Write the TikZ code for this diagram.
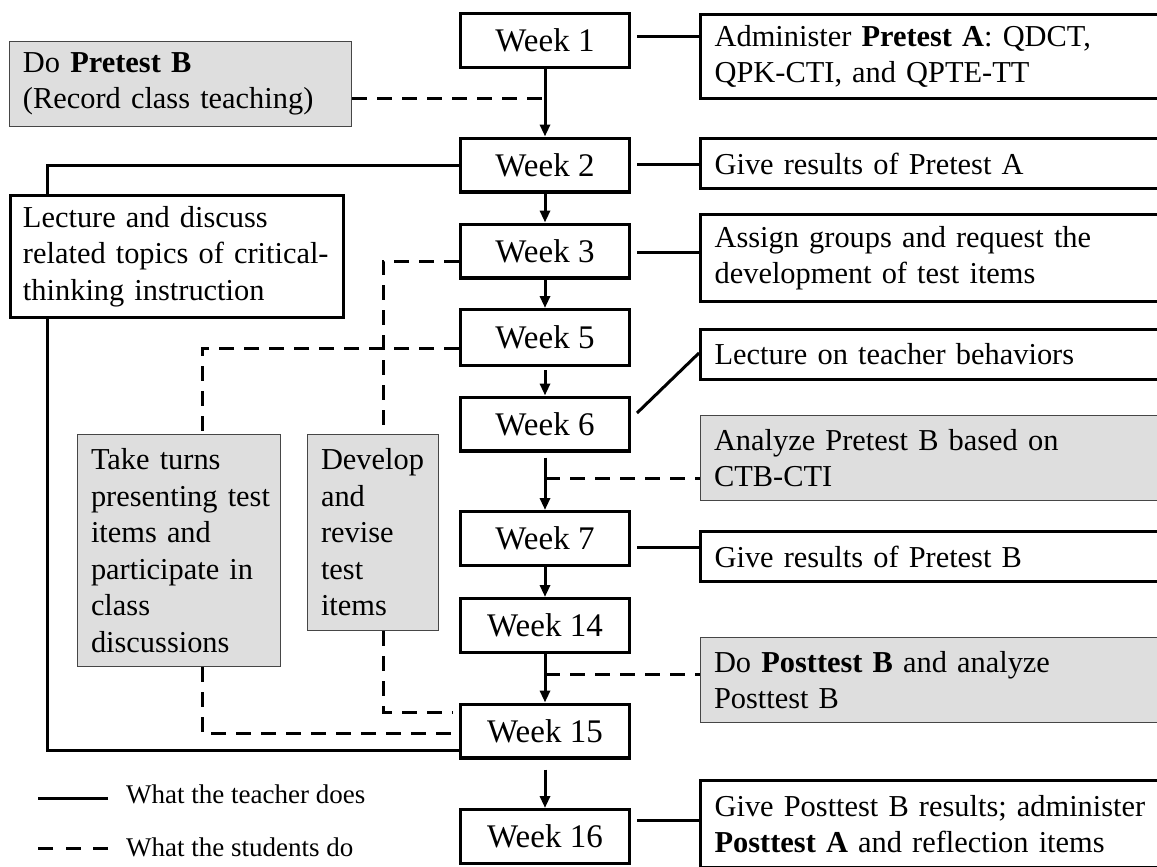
\documentclass[tikz,border=0pt]{standalone}
\usepackage{fontspec}
\setmainfont{Liberation Serif}
\usetikzlibrary{arrows.meta,calc}
\hyphenpenalty=10000
\exhyphenpenalty=10000
\definecolor{boxgray}{RGB}{222,222,222}
\definecolor{edgegray}{RGB}{70,70,70}
\begin{document}
\begin{tikzpicture}[x=1pt,y=-1pt,
  every node/.style={inner sep=0pt},
  week/.style={draw, line width=3.2pt, minimum width=168.8pt, minimum height=53.8pt,
    font=\fontsize{33}{39}\selectfont},
  tbox/.style={draw, line width=3.2pt, align=left, inner xsep=14pt, inner ysep=0pt,
    font=\fontsize{30.4}{36.5}\selectfont},
  sbox/.style={draw=edgegray, line width=1.2pt, fill=boxgray, align=left, inner xsep=13.4pt,
    inner ysep=0pt, font=\fontsize{30.4}{36.5}\selectfont},
  legendtext/.style={font=\fontsize{27}{32}\selectfont},
  tline/.style={line width=3pt},
  sline/.style={line width=3pt, dash pattern=on 15pt off 10pt},
  arr/.style={line width=3pt, -{Triangle[width=10pt,length=12pt]}}
]
\useasboundingbox (0,0) rectangle (1157,867);
\clip (0,0) rectangle (1157,867);

% week column
\node[week] (w1) at (545,40.5) {Week 1};
\node[week] (w2) at (545,165) {Week 2};
\node[week] (w3) at (545,251) {Week 3};
\node[week, minimum height=55.8pt] (w5) at (545,337.5) {Week 5};
\node[week] (w6) at (545,424) {Week 6};
\node[week] (w7) at (545,538.5) {Week 7};
\node[week] (w14) at (545,625.5) {Week 14};
\node[week] (w15) at (545,731) {Week 15};
\node[week] (w16) at (545,836.5) {Week 16};

% right boxes
\node[tbox, text width=470pt, minimum height=83.8pt, anchor=west] (r1) at (699,56.5)
  {Administer \textbf{Pretest A}: QDCT,\\QPK-CTI, and QPTE-TT};
\node[tbox, text width=470pt, minimum height=49.8pt, anchor=west] (r2) at (699,163.5)
  {Give results of Pretest A};
\node[tbox, text width=470pt, minimum height=86.8pt, anchor=west] (r3) at (699,258)
  {Assign groups and request the\\development of test items};
\node[tbox, text width=470pt, minimum height=49.8pt, anchor=west] (r4) at (699,354.5)
  {Lecture on teacher behaviors};
\node[sbox, text width=470pt, minimum height=84.8pt, anchor=west] (r5) at (700,458)
  {Analyze Pretest B based on\\CTB-CTI};
\node[tbox, text width=470pt, minimum height=49.8pt, anchor=west] (r6) at (699,556.5)
  {Give results of Pretest B};
\node[sbox, text width=470pt, minimum height=84.8pt, anchor=west] (r7) at (700,680)
  {Do \textbf{Posttest B} and analyze\\Posttest B};
\node[tbox, text width=470pt, minimum height=86.8pt, anchor=west] (r8) at (699,824)
  {Give Posttest B results; administer\\\textbf{Posttest A} and reflection items};

% left boxes
\node[sbox, text width=315pt, minimum height=84.8pt] (pB) at (180.5,84)
  {Do \textbf{Pretest B}\\(Record class teaching)};
\node[tbox, text width=308pt, minimum height=121.8pt, inner xsep=12.5pt] (lec) at (177,256.5)
  {Lecture and discuss\\related topics of critical-\\thinking instruction};
\node[sbox, text width=176pt, minimum height=231.8pt] (tt) at (179,550.5)
  {Take turns\\presenting~test\\items~and\\participate~in\\class\\discussions};
\node[sbox, text width=104pt, minimum height=195.8pt] (dv) at (373,532.5)
  {Develop\\and\\revise\\test\\items};

% week-to-week arrows
\draw[arr] (w1.south) -- (w2.north);
\draw[arr] (w2.south) -- (w3.north);
\draw[arr] (w3.south) -- (w5.north);
\draw[arr] ([yshift=-3pt]w5.south) -- (w6.north);
\draw[arr] ([yshift=-5pt]w6.south) -- (w7.north);
\draw[arr] (w7.south) -- (w14.north);
\draw[arr] (w14.south) -- (w15.north);
\draw[arr] ([yshift=-10pt]w15.south) -- (w16.north);

% junctions on arrows
\coordinate (jA) at (545,98);
\coordinate (jB) at (545,478);
\coordinate (jC) at (545,674);
\draw[sline] (pB.east |- jA) -- (jA);
\draw[sline] (jB) -- (jB -| r5.west);
\draw[sline] (jC) -- (jC -| r7.west);

% teacher lines on the left
\draw[tline] (w2.west) -| ($(lec.north west)+(39,0)$);
\draw[tline] ($(lec.south west)+(39,0)$) |- ([yshift=-19pt]w15.west);

% student lines on the left
\draw[sline] ([yshift=-10pt]w3.west) -| ($(dv.north)+(10,0)$);
\draw[sline] ([yshift=-10.5pt]w5.west) -| ($(tt.north)+(23,0)$);
\draw[sline] ($(dv.south)+(10,0)$) |- ([xshift=-6pt,yshift=19pt]w15.west);
\draw[sline] ($(tt.south)+(23,0)$) |- ([xshift=-4pt,yshift=-2pt]w15.west);

% right connectors
\coordinate (c1) at ([xshift=6pt,yshift=3.5pt]w1.east);
\coordinate (c2) at ([xshift=6pt,yshift=1pt]w2.east);
\coordinate (c3) at ([xshift=6pt,yshift=-1pt]w3.east);
\coordinate (c7) at ([xshift=6pt,yshift=-8.5pt]w7.east);
\coordinate (c16) at ([xshift=6pt,yshift=16.5pt]w16.east);
\draw[tline] (c1) -- (c1 -| r1.west);
\draw[tline] (c2) -- (c2 -| r2.west);
\draw[tline] (c3) -- (c3 -| r3.west);
\draw[tline] (c7) -- (c7 -| r6.west);
\draw[tline] (c16) -- (c16 -| r8.west);
\draw[tline] ([xshift=6pt,yshift=11pt]w6.east) -- ([yshift=1.5pt]r4.west);

% legend
\node[legendtext, anchor=base west] (lgT) at (126,803) {What the teacher does};
\node[legendtext, anchor=base west] (lgS) at (126,856) {What the students do};
\draw[tline] ([xshift=-18pt,yshift=5pt]lgT.base west) -- ++(-70,0);
\draw[line width=3pt, dash pattern=on 15pt off 12.5pt] ([xshift=-18pt,yshift=8pt]lgS.base west) -- ++(-70,0);
\end{tikzpicture}
\end{document}
